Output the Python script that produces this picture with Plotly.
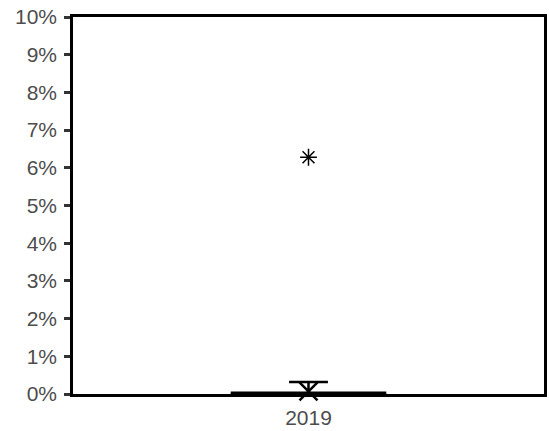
import plotly.graph_objects as go

# Summary statistics per year (fractions)
years = ["2019"]
q1 = [0.0]
median = [0.0]
q3 = [0.0]
lower_fence = [0.0]
upper_fence = [0.0032]
means = [0.0007]
outlier_years = ["2019"]
outlier_values = [0.0628]

fig = go.Figure()

# box with whiskers
fig.add_trace(go.Box(
    x=years, q1=q1, median=median, q3=q3,
    lowerfence=lower_fence, upperfence=upper_fence,
    width=0.33, whiskerwidth=0.25,
    fillcolor="rgba(0,0,0,0)",
    line=dict(color="black", width=2.5),
    boxpoints=False, showlegend=False, hoverinfo="skip",
))

# heavier median bar
fig.add_trace(go.Box(
    x=years, q1=median, median=median, q3=median,
    lowerfence=median, upperfence=median,
    width=0.33, whiskerwidth=0,
    fillcolor="rgba(0,0,0,0)",
    line=dict(color="black", width=5),
    boxpoints=False, showlegend=False, hoverinfo="skip",
))

fig.add_trace(go.Scatter(
    x=years, y=means, mode="markers", showlegend=False, cliponaxis=False,
    marker=dict(symbol="x-thin-open", size=18, color="black",
                line=dict(color="black", width=2.5)),
))

fig.add_trace(go.Scatter(
    x=outlier_years, y=outlier_values, mode="markers", showlegend=False,
    cliponaxis=False,
    marker=dict(symbol="asterisk-open", size=14, color="black",
                line=dict(color="black", width=1.5)),
))

fig.update_layout(
    width=549, height=431,
    margin=dict(l=73, r=2, t=17, b=36),
    plot_bgcolor="white", paper_bgcolor="white",
    font=dict(family="Liberation Sans, Arial, sans-serif", size=21, color="#4d4d4d"),
)
fig.update_xaxes(
    type="category", range=[-0.5, 0.5],
    showline=True, linecolor="black", linewidth=2.5, mirror=True,
    showgrid=False, zeroline=False, ticks="",
    ticklabelstandoff=3,
)
fig.update_yaxes(
    range=[0, 0.1], dtick=0.01, tickformat=".0%",
    showline=True, linecolor="black", linewidth=2.5, mirror=True,
    showgrid=False, zeroline=False,
    ticks="outside", ticklen=6, tickwidth=2.5, tickcolor="#333333",
    ticklabelstandoff=3,
)

fig.write_html("out.html")
